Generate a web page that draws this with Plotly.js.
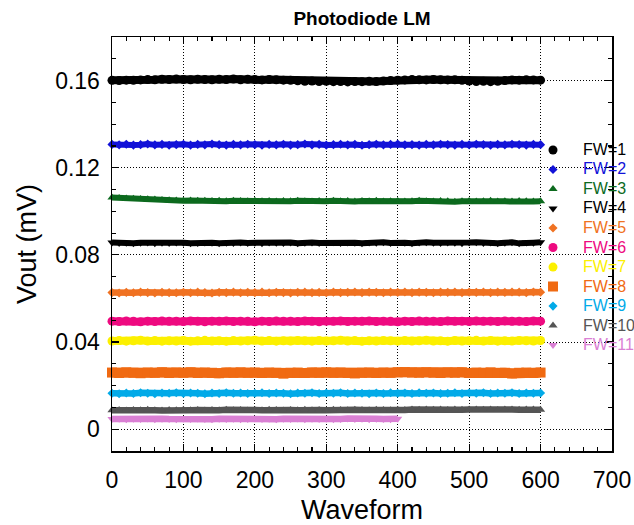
<!DOCTYPE html>
<html>
<head>
<meta charset="utf-8">
<script src="https://cdn.plot.ly/plotly-3.0.1.min.js"></script>
<style>html,body{margin:0;padding:0;background:#fff;}#chart{width:634px;height:525px;}</style>
</head>
<body>
<div id="chart"></div>
<script>
// Waveform index (sampled every 10 waveforms)
const waveform = [0,10,20,30,40,50,60,70,80,90,100,110,120,130,140,150,160,170,180,190,
  200,210,220,230,240,250,260,270,280,290,300,310,320,330,340,350,360,370,380,390,
  400,410,420,430,440,450,460,470,480,490,500,510,520,530,540,550,560,570,580,590,600];
const waveform11 = [0,10,20,30,40,50,60,70,80,90,100,110,120,130,140,150,160,170,180,190,
  200,210,220,230,240,250,260,270,280,290,300,310,320,330,340,350,360,370,380,390,400];

const fwNames = ["FW=1","FW=2","FW=3","FW=4","FW=5","FW=6","FW=7","FW=8","FW=9","FW=10","FW=11"];

const fw1 = [0.1601,0.1600,0.1602,0.1601,0.1603,0.1605,0.1604,0.1606,0.1605,0.1607,
  0.1605,0.1604,0.1606,0.1605,0.1604,0.1606,0.1605,0.1607,0.1604,0.1606,
  0.1605,0.1603,0.1605,0.1604,0.1602,0.1601,0.1599,0.1597,0.1598,0.1596,
  0.1597,0.1595,0.1596,0.1594,0.1596,0.1595,0.1597,0.1596,0.1598,0.1600,
  0.1602,0.1603,0.1605,0.1604,0.1603,0.1605,0.1604,0.1603,0.1604,0.1601,
  0.1598,0.1596,0.1597,0.1595,0.1597,0.1600,0.1603,0.1602,0.1604,0.1603,0.1602];
const fw2 = [0.1307,0.1305,0.1308,0.1304,0.1306,0.1309,0.1305,0.1307,0.1303,0.1306,
  0.1308,0.1304,0.1307,0.1305,0.1309,0.1306,0.1304,0.1307,0.1305,0.1308,
  0.1306,0.1303,0.1307,0.1305,0.1308,0.1304,0.1306,0.1309,0.1305,0.1307,
  0.1304,0.1306,0.1308,0.1305,0.1307,0.1303,0.1306,0.1308,0.1305,0.1307,
  0.1309,0.1305,0.1306,0.1304,0.1307,0.1305,0.1308,0.1306,0.1304,0.1307,
  0.1305,0.1308,0.1306,0.1303,0.1307,0.1305,0.1308,0.1306,0.1304,0.1307,0.1306];
const fw3 = [0.1063,0.1061,0.1059,0.1058,0.1056,0.1055,0.1054,0.1052,0.1051,0.1050,
  0.1049,0.1050,0.1048,0.1049,0.1047,0.1048,0.1046,0.1048,0.1047,0.1046,
  0.1048,0.1046,0.1047,0.1045,0.1047,0.1046,0.1048,0.1046,0.1045,0.1047,
  0.1046,0.1048,0.1046,0.1047,0.1045,0.1047,0.1046,0.1048,0.1045,0.1046,
  0.1047,0.1045,0.1046,0.1048,0.1046,0.1045,0.1047,0.1046,0.1044,0.1046,
  0.1047,0.1045,0.1046,0.1048,0.1045,0.1046,0.1045,0.1047,0.1046,0.1045,0.1046];
const fw4 = [0.0857,0.0855,0.0856,0.0853,0.0856,0.0857,0.0854,0.0856,0.0855,0.0857,
  0.0856,0.0853,0.0855,0.0857,0.0856,0.0854,0.0856,0.0855,0.0857,0.0855,
  0.0856,0.0854,0.0857,0.0856,0.0855,0.0857,0.0853,0.0856,0.0857,0.0855,
  0.0856,0.0858,0.0855,0.0857,0.0856,0.0854,0.0857,0.0856,0.0858,0.0855,
  0.0857,0.0856,0.0854,0.0857,0.0858,0.0856,0.0855,0.0857,0.0856,0.0853,
  0.0857,0.0858,0.0855,0.0857,0.0854,0.0856,0.0858,0.0853,0.0857,0.0856,0.0858];
const fw5 = [0.0627,0.0625,0.0628,0.0626,0.0629,0.0627,0.0625,0.0628,0.0627,0.0626,
  0.0628,0.0626,0.0629,0.0627,0.0625,0.0628,0.0627,0.0629,0.0626,0.0628,
  0.0627,0.0629,0.0626,0.0628,0.0627,0.0625,0.0628,0.0629,0.0627,0.0628,
  0.0626,0.0629,0.0627,0.0628,0.0630,0.0627,0.0629,0.0628,0.0626,0.0629,
  0.0628,0.0630,0.0627,0.0629,0.0628,0.0626,0.0629,0.0628,0.0630,0.0627,
  0.0629,0.0628,0.0630,0.0627,0.0629,0.0628,0.0630,0.0629,0.0627,0.0630,0.0629];
const fw6 = [0.0496,0.0494,0.0497,0.0495,0.0493,0.0496,0.0494,0.0497,0.0495,0.0496,
  0.0494,0.0497,0.0495,0.0493,0.0496,0.0495,0.0497,0.0494,0.0496,0.0495,
  0.0493,0.0496,0.0494,0.0497,0.0495,0.0496,0.0494,0.0497,0.0495,0.0493,
  0.0496,0.0495,0.0497,0.0494,0.0496,0.0495,0.0497,0.0494,0.0496,0.0495,
  0.0493,0.0496,0.0494,0.0497,0.0495,0.0496,0.0494,0.0497,0.0495,0.0496,
  0.0494,0.0497,0.0495,0.0496,0.0494,0.0497,0.0495,0.0496,0.0494,0.0497,0.0496];
const fw7 = [0.0405,0.0407,0.0404,0.0406,0.0408,0.0405,0.0407,0.0404,0.0406,0.0405,
  0.0407,0.0404,0.0406,0.0408,0.0405,0.0406,0.0404,0.0407,0.0405,0.0406,
  0.0408,0.0405,0.0407,0.0404,0.0406,0.0405,0.0407,0.0406,0.0404,0.0407,
  0.0405,0.0406,0.0408,0.0405,0.0407,0.0404,0.0406,0.0405,0.0407,0.0406,
  0.0404,0.0407,0.0405,0.0406,0.0408,0.0405,0.0406,0.0404,0.0407,0.0405,
  0.0406,0.0408,0.0405,0.0407,0.0404,0.0406,0.0405,0.0407,0.0406,0.0405,0.0407];
const fw8 = [0.0260,0.0258,0.0261,0.0259,0.0257,0.0260,0.0259,0.0261,0.0258,0.0260,
  0.0259,0.0261,0.0258,0.0260,0.0259,0.0257,0.0260,0.0259,0.0261,0.0259,
  0.0260,0.0258,0.0260,0.0259,0.0255,0.0259,0.0260,0.0258,0.0260,0.0259,
  0.0261,0.0259,0.0260,0.0258,0.0256,0.0259,0.0260,0.0258,0.0260,0.0259,
  0.0261,0.0262,0.0260,0.0259,0.0261,0.0259,0.0258,0.0260,0.0259,0.0261,
  0.0258,0.0260,0.0259,0.0261,0.0258,0.0259,0.0256,0.0259,0.0260,0.0258,0.0260];
const fw9 = [0.0165,0.0163,0.0166,0.0164,0.0167,0.0165,0.0163,0.0166,0.0165,0.0167,
  0.0164,0.0166,0.0165,0.0163,0.0166,0.0164,0.0167,0.0165,0.0166,0.0164,
  0.0165,0.0167,0.0164,0.0166,0.0165,0.0163,0.0166,0.0165,0.0167,0.0164,
  0.0166,0.0165,0.0167,0.0164,0.0166,0.0165,0.0163,0.0166,0.0164,0.0167,
  0.0165,0.0166,0.0164,0.0167,0.0165,0.0166,0.0164,0.0165,0.0167,0.0164,
  0.0166,0.0165,0.0167,0.0164,0.0166,0.0165,0.0167,0.0164,0.0166,0.0165,0.0166];
const fw10 = [0.0087,0.0088,0.0086,0.0088,0.0087,0.0089,0.0087,0.0086,0.0088,0.0087,
  0.0089,0.0087,0.0088,0.0086,0.0088,0.0087,0.0089,0.0087,0.0088,0.0086,
  0.0088,0.0087,0.0089,0.0088,0.0086,0.0088,0.0087,0.0089,0.0087,0.0088,
  0.0087,0.0089,0.0088,0.0087,0.0089,0.0088,0.0087,0.0089,0.0088,0.0087,
  0.0089,0.0088,0.0090,0.0089,0.0091,0.0089,0.0090,0.0088,0.0091,0.0089,
  0.0090,0.0091,0.0089,0.0090,0.0088,0.0091,0.0090,0.0089,0.0091,0.0090,0.0089];
const fw11 = [0.0047,0.0048,0.0046,0.0048,0.0047,0.0049,0.0046,0.0048,0.0047,0.0046,
  0.0048,0.0047,0.0049,0.0047,0.0046,0.0048,0.0047,0.0048,0.0046,0.0047,
  0.0049,0.0047,0.0048,0.0046,0.0048,0.0047,0.0049,0.0046,0.0048,0.0047,
  0.0048,0.0046,0.0047,0.0049,0.0047,0.0048,0.0046,0.0048,0.0047,0.0046,0.0048];

const yTickVals = [0,0.04,0.08,0.12,0.16];
const yTickText = ["0","0.04","0.08","0.12","0.16"];
const xTickVals = [0,100,200,300,400,500,600,700];

// styles (presentation only)
const styles = [
  {c:"#000000", sym:"circle",        ms:9,  lw:8},
  {c:"#1212d8", sym:"diamond",       ms:7,  lw:6},
  {c:"#0c6a1e", sym:"triangle-up",   ms:8,  lw:6},
  {c:"#000000", sym:"triangle-down", ms:8,  lw:6},
  {c:"#f07222", sym:"diamond",       ms:7,  lw:6.5},
  {c:"#ee0a80", sym:"circle",        ms:9,  lw:8},
  {c:"#fcf000", sym:"circle",        ms:9,  lw:8},
  {c:"#f06a12", sym:"square",        ms:10, lw:10},
  {c:"#02aae8", sym:"diamond",       ms:7,  lw:6.5},
  {c:"#555555", sym:"triangle-up",   ms:8,  lw:6.5},
  {c:"#da80d4", sym:"triangle-down", ms:8,  lw:6.5}
];
const seriesY = [fw1,fw2,fw3,fw4,fw5,fw6,fw7,fw8,fw9,fw10,fw11];
const seriesX = [waveform,waveform,waveform,waveform,waveform,waveform,waveform,waveform,waveform,waveform,waveform11];

const traces = [];
seriesY.forEach((ys,i)=>{
  const s = styles[i];
  traces.push({x:seriesX[i], y:ys, type:"scatter", mode:"lines", showlegend:false, cliponaxis:false,
    line:{color:s.c, width:s.lw}, hoverinfo:"skip"});
  traces.push({x:seriesX[i], y:ys, type:"scatter", mode:"markers", cliponaxis:false,
    name:'<span style="font-size:16px;color:'+s.c+'">'+fwNames[i]+'</span>',
    marker:{color:s.c, symbol:s.sym, size:s.ms, line:{width:0}}});
});

const FONT = "Liberation Sans, Arial, sans-serif";
const axisCommon = {
  showline:true, linecolor:"#000", linewidth:1.5, mirror:"allticks",
  ticks:"inside", ticklen:7, tickwidth:1.2, tickcolor:"#000",
  showgrid:true, gridcolor:"#000", gridwidth:1, griddash:"1px,2px",
  zeroline:false, tickfont:{family:FONT, size:23, color:"#000"}
};
const layout = {
  width:634, height:525,
  margin:{l:112, r:22, t:37, b:74, autoexpand:false},
  paper_bgcolor:"#fff", plot_bgcolor:"#fff",
  font:{family:FONT, color:"#000"},
  title:{text:"<b>Photodiode LM</b>", font:{family:FONT, size:19, color:"#000"},
    x:0.5, xref:"paper", xanchor:"center", y:1-18.5/525, yref:"container", yanchor:"middle"},
  xaxis:Object.assign({}, axisCommon, {
    range:[0,700], tickvals:xTickVals, ticklabelstandoff:8,
    minor:{dtick:20, tick0:0, ticks:"inside", ticklen:4, tickwidth:1.2, tickcolor:"#000", showgrid:false},
    title:{text:"Waveform", font:{family:FONT, size:27, color:"#000"}, standoff:15}
  }),
  yaxis:Object.assign({}, axisCommon, {
    range:[-0.01,0.18], tickvals:yTickVals, ticktext:yTickText, ticklabelstandoff:6,
    minor:{dtick:0.01, tick0:0, ticks:"inside", ticklen:4, tickwidth:1.2, tickcolor:"#000", showgrid:false},
    title:{text:"Vout (mV)", font:{family:FONT, size:27, color:"#000"}, standoff:10}
  }),
  legend:{x:0.822, xanchor:"left", y:(451-135.25)/414, yanchor:"top",
    bgcolor:"rgba(0,0,0,0)", borderwidth:0, itemwidth:50,
    font:{family:FONT, size:12.7, color:"#000"}, tracegroupgap:0},
  showlegend:true
};
Plotly.newPlot("chart", traces, layout, {staticPlot:true, displayModeBar:false});
</script>
</body>
</html>
